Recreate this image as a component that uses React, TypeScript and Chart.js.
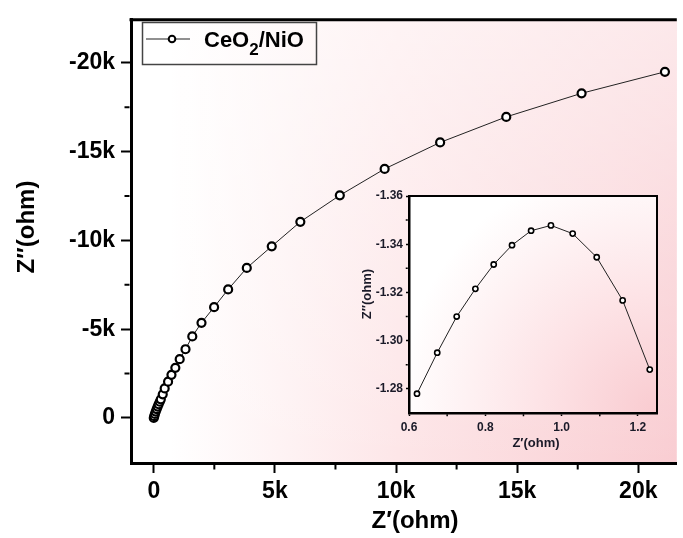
import { useEffect, useRef } from 'react';
import { Chart, registerables } from 'chart.js';
Chart.register(...registerables);

// ---- main Nyquist data ----
const mainZre = [0, 20, 45, 80, 120, 160, 200, 245, 290, 370, 450, 590, 730, 890, 1070, 1310, 1590, 1970, 2490, 3070, 3840, 4870, 6050, 7680, 9530, 11820, 14550, 17660, 21100];
const mainZim = [0, -100, -220, -360, -500, -640, -770, -910, -1050, -1330, -1660, -2040, -2430, -2820, -3310, -3870, -4590, -5360, -6240, -7240, -8450, -9670, -11050, -12540, -14030, -15520, -16960, -18290, -19500];
const mainXTicks = [0, 5000, 10000, 15000, 20000];
const mainYTicks = [-20000, -15000, -10000, -5000, 0];
const mainXMinor = [2500, 7500, 12500, 17500];
const mainYMinor = [-17500, -12500, -7500, -2500];

// ---- inset data ----
const insetZre = [0.621, 0.674, 0.725, 0.774, 0.822, 0.87, 0.92, 0.972, 1.029, 1.092, 1.16, 1.231];
const insetZim = [-1.278, -1.295, -1.31, -1.3215, -1.3316, -1.3396, -1.3456, -1.3478, -1.3444, -1.3346, -1.3167, -1.288];
const insetXTicks = [0.6, 0.8, 1.0, 1.2];
const insetYTicks = [-1.36, -1.34, -1.32, -1.3, -1.28];
const insetXMinor = [0.7, 0.9, 1.1];
const insetYMinor = [-1.35, -1.33, -1.31, -1.29];

const seriesLabel = 'CeO2/NiO';
const FONT = '"Liberation Sans", Arial, sans-serif';

function minorPlugin(id: string, xMinor: number[], yMinor: number[], len: number, width: number, bw: number) {
  return {
    id,
    afterDraw(chart: any) {
      const { ctx, chartArea } = chart;
      const xs = chart.scales.x;
      const ys = chart.scales.y;
      ctx.save();
      ctx.strokeStyle = '#000';
      ctx.lineWidth = width;
      ctx.beginPath();
      xMinor.forEach((v) => {
        const px = xs.getPixelForValue(v);
        ctx.moveTo(px, chartArea.bottom + bw / 2);
        ctx.lineTo(px, chartArea.bottom + bw / 2 + len);
      });
      yMinor.forEach((v) => {
        const py = ys.getPixelForValue(v);
        ctx.moveTo(chartArea.left - bw / 2, py);
        ctx.lineTo(chartArea.left - bw / 2 - len, py);
      });
      ctx.stroke();
      ctx.restore();
    },
  };
}

const mainBg = {
  id: 'mainBg',
  beforeDraw(chart: any) {
    const { ctx, chartArea: a } = chart;
    ctx.save();
    const g = ctx.createLinearGradient(170, 0, a.right, 0);
    g.addColorStop(0, '#ffffff');
    g.addColorStop(0.45, '#fde6e8');
    g.addColorStop(1, '#f9cdd2');
    ctx.fillStyle = g;
    ctx.fillRect(a.left, a.top, a.right - a.left, a.bottom - a.top);
    const v = ctx.createLinearGradient(0, a.top, 0, a.bottom);
    v.addColorStop(0, 'rgba(255,255,255,0.55)');
    v.addColorStop(1, 'rgba(255,255,255,0)');
    ctx.fillStyle = v;
    ctx.fillRect(a.left, a.top, a.right - a.left, a.bottom - a.top);
    ctx.restore();
  },
  afterDraw(chart: any) {
    const { ctx, chartArea: a } = chart;
    ctx.save();
    ctx.strokeStyle = '#000';
    ctx.lineWidth = 3;
    ctx.beginPath();
    ctx.moveTo(a.left - 1.5, a.top);
    ctx.lineTo(a.right, a.top);
    ctx.stroke();
    // axis titles
    ctx.fillStyle = '#000';
    ctx.font = `bold 24px ${FONT}`;
    ctx.textAlign = 'center';
    ctx.textBaseline = 'middle';
    ctx.fillText('Z\u2032(ohm)', 415, 521);
    ctx.translate(27, 227);
    ctx.rotate(-Math.PI / 2);
    ctx.fillText('Z\u2033(ohm)', 0, 0);
    ctx.restore();
    // legend
    ctx.save();
    ctx.strokeStyle = '#444';
    ctx.lineWidth = 1.5;
    ctx.strokeRect(142.5, 22.5, 174, 42);
    ctx.strokeStyle = '#222';
    ctx.lineWidth = 1.2;
    ctx.beginPath();
    ctx.moveTo(146, 39);
    ctx.lineTo(190, 39);
    ctx.stroke();
    ctx.beginPath();
    ctx.arc(172, 39, 3.3, 0, Math.PI * 2);
    ctx.fillStyle = '#fff';
    ctx.fill();
    ctx.strokeStyle = '#000';
    ctx.lineWidth = 2;
    ctx.stroke();
    ctx.fillStyle = '#000';
    ctx.textBaseline = 'alphabetic';
    ctx.textAlign = 'left';
    const main1 = seriesLabel.slice(0, 3);
    const sub = seriesLabel.slice(3, 4);
    const main2 = seriesLabel.slice(4);
    let x = 204;
    ctx.font = `bold 22px ${FONT}`;
    ctx.fillText(main1, x, 47);
    x += ctx.measureText(main1).width;
    ctx.font = `bold 17px ${FONT}`;
    ctx.fillText(sub, x, 55);
    x += ctx.measureText(sub).width;
    ctx.font = `bold 22px ${FONT}`;
    ctx.fillText(main2, x, 47);
    ctx.restore();
  },
};

const insetBg = {
  id: 'insetBg',
  beforeDraw(chart: any) {
    const { ctx, chartArea: a } = chart;
    ctx.save();
    const g = ctx.createRadialGradient(a.right, a.bottom, 0, a.right, a.bottom, 260);
    g.addColorStop(0, '#f9cbd0');
    g.addColorStop(0.45, '#fde3e6');
    g.addColorStop(1, '#ffffff');
    ctx.fillStyle = g;
    ctx.fillRect(a.left, a.top, a.right - a.left, a.bottom - a.top);
    ctx.restore();
  },
  afterDraw(chart: any) {
    const { ctx, chartArea: a } = chart;
    ctx.save();
    ctx.strokeStyle = '#000';
    ctx.lineWidth = 2;
    ctx.beginPath();
    ctx.moveTo(a.left, a.top);
    ctx.lineTo(a.right, a.top);
    ctx.lineTo(a.right, a.bottom + 1);
    ctx.stroke();
    ctx.fillStyle = '#1a1a28';
    ctx.font = `bold 13px ${FONT}`;
    ctx.textAlign = 'center';
    ctx.textBaseline = 'middle';
    ctx.fillText('Z\u2032(ohm)', 186, 258);
    ctx.translate(17, 109);
    ctx.rotate(-Math.PI / 2);
    ctx.fillText('Z\u2033(ohm)', 0, 0);
    ctx.restore();
  },
};

export default function App() {
  const mainRef = useRef<HTMLCanvasElement>(null);
  const insetRef = useRef<HTMLCanvasElement>(null);

  useEffect(() => {
    const mainFmt = (v: any) => (Number(v) === 0 ? '0' : `${Number(v) / 1000}k`);
    const main = new Chart(mainRef.current as HTMLCanvasElement, {
      type: 'scatter',
      data: {
        datasets: [
          {
            label: seriesLabel,
            data: mainZre.map((x, i) => ({ x, y: mainZim[i] })),
            showLine: true,
            borderColor: '#222',
            borderWidth: 1,
            pointRadius: 4,
            pointBorderWidth: 2.2,
            pointBackgroundColor: '#fff',
            pointBorderColor: '#000',
          },
        ],
      },
      options: {
        animation: false,
        responsive: false,
        maintainAspectRatio: false,
        layout: { padding: { top: 11, left: 0, right: 0, bottom: 0 } },
        plugins: { legend: { display: false }, tooltip: { enabled: false } },
        scales: {
          x: {
            type: 'linear',
            min: -940,
            max: 21590,
            afterBuildTicks: (s: any) => {
              s.ticks = mainXTicks.map((value) => ({ value }));
            },
            afterFit: (s: any) => {
              s.height = 75;
            },
            ticks: {
              callback: mainFmt,
              font: { family: FONT, size: 23, weight: 'bold' },
              color: '#000',
              padding: 5,
              maxRotation: 0,
              autoSkip: false,
            },
            grid: { drawOnChartArea: false, drawTicks: true, tickLength: 10, tickWidth: 2, color: '#000' },
            border: { width: 3, color: '#000' },
          },
          y: {
            type: 'linear',
            reverse: true,
            min: -22430,
            max: 2540,
            afterBuildTicks: (s: any) => {
              s.ticks = mainYTicks.map((value) => ({ value }));
            },
            afterFit: (s: any) => {
              s.width = 131;
            },
            ticks: {
              callback: mainFmt,
              font: { family: FONT, size: 23, weight: 'bold' },
              color: '#000',
              padding: 6,
              autoSkip: false,
            },
            grid: { drawOnChartArea: false, drawTicks: true, tickLength: 10, tickWidth: 2, color: '#000' },
            border: { width: 3, color: '#000' },
          },
        },
      } as any,
      plugins: [mainBg, minorPlugin('mainMinor', mainXMinor, mainYMinor, 5, 2, 3)],
    });

    const inset = new Chart(insetRef.current as HTMLCanvasElement, {
      type: 'scatter',
      data: {
        datasets: [
          {
            label: seriesLabel,
            data: insetZre.map((x, i) => ({ x, y: insetZim[i] })),
            showLine: true,
            borderColor: '#222',
            borderWidth: 1,
            pointRadius: 2.6,
            pointBorderWidth: 1.6,
            pointBackgroundColor: '#fff',
            pointBorderColor: '#000',
          },
        ],
      },
      options: {
        animation: false,
        responsive: false,
        maintainAspectRatio: false,
        layout: { padding: { top: 11, left: 0, right: 18, bottom: 0 } },
        plugins: { legend: { display: false }, tooltip: { enabled: false } },
        scales: {
          x: {
            type: 'linear',
            min: 0.6,
            max: 1.25,
            afterBuildTicks: (s: any) => {
              s.ticks = insetXTicks.map((value) => ({ value }));
            },
            afterFit: (s: any) => {
              s.height = 42;
            },
            ticks: {
              callback: (v: any) => Number(v).toFixed(1),
              font: { family: FONT, size: 12, weight: 'bold' },
              color: '#1a1a28',
              padding: 4,
              maxRotation: 0,
              autoSkip: false,
            },
            grid: { drawOnChartArea: false, drawTicks: true, tickLength: 3, tickWidth: 1.5, color: '#000' },
            border: { width: 2.5, color: '#000' },
          },
          y: {
            type: 'linear',
            reverse: true,
            min: -1.36,
            max: -1.27,
            afterBuildTicks: (s: any) => {
              s.ticks = insetYTicks.map((value) => ({ value }));
            },
            afterFit: (s: any) => {
              s.width = 59;
            },
            ticks: {
              callback: (v: any) => Number(v).toFixed(2),
              font: { family: FONT, size: 12, weight: 'bold' },
              color: '#1a1a28',
              padding: 3,
              autoSkip: false,
            },
            grid: { drawOnChartArea: false, drawTicks: true, tickLength: 3, tickWidth: 1.5, color: '#000' },
            border: { width: 2.5, color: '#000' },
          },
        },
      } as any,
      plugins: [insetBg, minorPlugin('insetMinor', insetXMinor, insetYMinor, 2, 1.5, 2.5)],
    });

    return () => {
      main.destroy();
      inset.destroy();
    };
  }, []);

  return (
    <div style={{ position: 'fixed', left: 0, top: 0, width: 683, height: 538, background: '#fff', overflow: 'hidden' }}>
      <canvas ref={mainRef} width={683} height={538} style={{ position: 'absolute', left: 0, top: 0 }} />
      <canvas ref={insetRef} width={325} height={270} style={{ position: 'absolute', left: 350, top: 185 }} />
    </div>
  );
}
